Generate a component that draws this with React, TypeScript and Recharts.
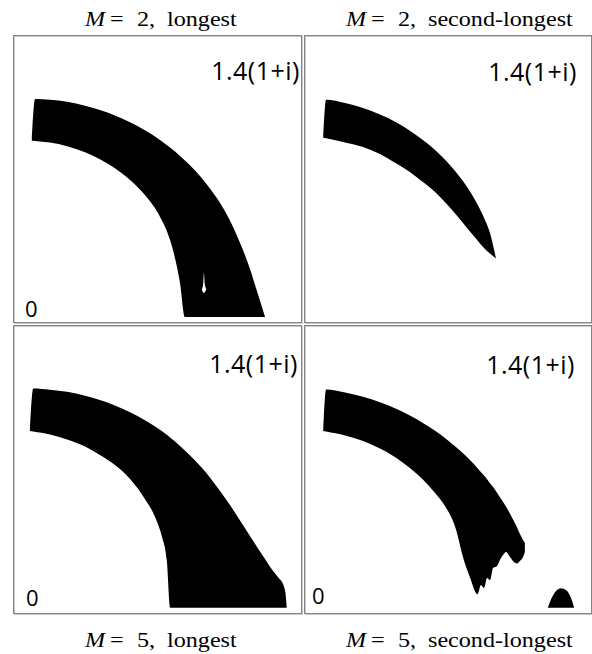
import React from 'react';
import { Area, ComposedChart, XAxis, YAxis } from 'recharts';

// every panel shows the same window of the complex plane: 0 .. 1.4(1+i)
const RE_MAX = 1.4;
const IM_MAX = 1.4;

// M = 2, longest
const TL_X = [0.091, 0.107, 0.179, 0.262, 0.349, 0.421, 0.494, 0.567, 0.639, 0.712, 0.761, 0.809, 0.833, 0.882, 0.94, 1.003, 1.051, 1.1, 1.129, 1.153, 1.177, 1.197, 1.221];
const TL_LOW = [0.886, 0.885, 0.877, 0.859, 0.83, 0.796, 0.752, 0.695, 0.622, 0.517, 0.403, 0.194, 0.029, 0.029, 0.029, 0.029, 0.029, 0.029, 0.029, 0.029, 0.029, 0.029, 0.029];
const TL_HIGH = [0.886, 1.089, 1.085, 1.075, 1.056, 1.035, 1.009, 0.976, 0.937, 0.89, 0.853, 0.812, 0.79, 0.741, 0.672, 0.583, 0.498, 0.389, 0.316, 0.248, 0.17, 0.107, 0.029];
// small hole inside the band
const TL_HOLE_X = [0.915, 0.921, 0.925, 0.929, 0.937];
const TL_HOLE_LOW = [0.165, 0.148, 0.146, 0.15, 0.165];
const TL_HOLE_HIGH = [0.165, 0.185, 0.243, 0.19, 0.165];

// M = 2, second-longest
const TR_X = [0.093, 0.107, 0.199, 0.286, 0.368, 0.446, 0.513, 0.576, 0.635, 0.688, 0.736, 0.785, 0.833, 0.872, 0.901, 0.93];
const TR_LOW = [0.901, 0.898, 0.878, 0.856, 0.822, 0.776, 0.734, 0.685, 0.637, 0.582, 0.527, 0.468, 0.411, 0.365, 0.338, 0.314];
const TR_HIGH = [0.901, 1.085, 1.069, 1.045, 1.013, 0.976, 0.935, 0.89, 0.841, 0.789, 0.734, 0.669, 0.591, 0.512, 0.438, 0.314];

// M = 5, longest
const BL_X = [0.082, 0.098, 0.179, 0.262, 0.349, 0.421, 0.494, 0.567, 0.639, 0.688, 0.722, 0.745, 0.761, 0.809, 0.882, 0.954, 1.003, 1.051, 1.134, 1.211, 1.26, 1.289, 1.308, 1.32, 1.326];
const BL_LOW = [0.885, 0.882, 0.868, 0.844, 0.809, 0.768, 0.719, 0.651, 0.554, 0.467, 0.369, 0.258, 0.026, 0.026, 0.026, 0.026, 0.026, 0.026, 0.026, 0.026, 0.026, 0.026, 0.026, 0.026, 0.026];
const BL_HIGH = [0.885, 1.091, 1.085, 1.075, 1.056, 1.035, 1.009, 0.976, 0.937, 0.906, 0.883, 0.866, 0.853, 0.812, 0.741, 0.659, 0.593, 0.525, 0.396, 0.277, 0.204, 0.168, 0.141, 0.097, 0.026];

// M = 5, second-longest
const BR_X = [0.093, 0.107, 0.199, 0.286, 0.368, 0.446, 0.513, 0.576, 0.635, 0.683, 0.736, 0.77, 0.804, 0.841, 0.857, 0.872, 0.887, 0.901, 0.916, 0.935, 0.949, 0.964, 0.979, 0.998, 1.017, 1.032, 1.046, 1.061, 1.07];
const BR_LOW = [0.885, 0.882, 0.863, 0.836, 0.8, 0.755, 0.705, 0.649, 0.583, 0.52, 0.407, 0.272, 0.173, 0.091, 0.136, 0.122, 0.17, 0.16, 0.219, 0.228, 0.258, 0.282, 0.297, 0.272, 0.248, 0.241, 0.253, 0.272, 0.297];
const BR_HIGH = [0.885, 1.087, 1.072, 1.051, 1.025, 0.993, 0.96, 0.924, 0.886, 0.851, 0.807, 0.777, 0.744, 0.704, 0.685, 0.668, 0.65, 0.631, 0.612, 0.585, 0.563, 0.541, 0.517, 0.483, 0.446, 0.416, 0.384, 0.355, 0.34];
// separate blob near the real axis
const BR_BLOB_X = [1.181, 1.197, 1.221, 1.245, 1.269, 1.293, 1.309];
const BR_BLOB_LOW = [0.026, 0.026, 0.026, 0.026, 0.026, 0.026, 0.026];
const BR_BLOB_HIGH = [0.026, 0.067, 0.107, 0.12, 0.112, 0.074, 0.026];

const M_VALUES = [2, 2, 5, 5];
const KINDS = ['longest', 'second-longest', 'longest', 'second-longest'];
const CORNER_LABEL = '1.4(1+i)';
const ORIGIN_LABEL = '0';

const band = (xs: number[], lo: number[], hi: number[]) => xs.map((x, i) => ({ x, r: [lo[i], hi[i]] }));

type Shape = { data: { x: number; r: number[] }[]; fill: string };

const PANELS: { left: number; top: number; shapes: Shape[] }[] = [
  {
    left: 13,
    top: 35,
    shapes: [
      { data: band(TL_X, TL_LOW, TL_HIGH), fill: '#000' },
      { data: band(TL_HOLE_X, TL_HOLE_LOW, TL_HOLE_HIGH), fill: '#fff' },
    ],
  },
  { left: 304, top: 35, shapes: [{ data: band(TR_X, TR_LOW, TR_HIGH), fill: '#000' }] },
  { left: 13, top: 325, shapes: [{ data: band(BL_X, BL_LOW, BL_HIGH), fill: '#000' }] },
  {
    left: 304,
    top: 325,
    shapes: [
      { data: band(BR_X, BR_LOW, BR_HIGH), fill: '#000' },
      { data: band(BR_BLOB_X, BR_BLOB_LOW, BR_BLOB_HIGH), fill: '#000' },
    ],
  },
];

function Panel({ left, top, shapes }: { left: number; top: number; shapes: Shape[] }) {
  return (
    <div style={{ position: 'absolute', left, top }}>
      <ComposedChart width={289} height={288} margin={{ top: 0, right: 0, bottom: 0, left: 0 }}>
        <XAxis type="number" dataKey="x" domain={[0, RE_MAX]} hide allowDataOverflow />
        <YAxis type="number" domain={[0, IM_MAX]} hide allowDataOverflow />
        {shapes.map((s, i) => (
          <Area
            key={i}
            data={s.data}
            dataKey="r"
            type="monotone"
            fill={s.fill}
            fillOpacity={1}
            stroke="none"
            dot={false}
            activeDot={false}
            isAnimationActive={false}
          />
        ))}
      </ComposedChart>
    </div>
  );
}

// panel frames and label anchors
const FRAMES = [
  { x: 13.5, y: 35.5, w: 288, h: 287 },
  { x: 304.5, y: 35.5, w: 287, h: 287 },
  { x: 13.5, y: 325.5, w: 288, h: 288 },
  { x: 304.5, y: 325.5, w: 287, h: 288 },
];
const CORNER_POS = [
  { x: 300, y: 80 },
  { x: 577, y: 81 },
  { x: 298, y: 373 },
  { x: 575, y: 374 },
];
const ORIGIN_POS = [{ x: 25, y: 317 }, null, { x: 26, y: 606 }, { x: 312, y: 604 }];
const TITLE_POS = [
  { x: 85, y: 26 },
  { x: 346, y: 26 },
  { x: 85, y: 647 },
  { x: 346, y: 647 },
];
const STRETCH = 1.15;

export default function App() {
  return (
    <div style={{ position: 'absolute', left: 0, top: 0, width: 592, height: 654, overflow: 'hidden', background: '#fff' }}>
      {PANELS.map((p, i) => (
        <Panel key={i} {...p} />
      ))}
      <svg width={592} height={654} style={{ position: 'absolute', left: 0, top: 0, pointerEvents: 'none' }}>
        {FRAMES.map((f, i) => (
          <g key={i}>
            <rect x={f.x + 1} y={f.y + 1} width={f.w} height={f.h} fill="none" stroke="#c8c8c8" />
            <rect x={f.x} y={f.y} width={f.w} height={f.h} fill="none" stroke="#858585" />
          </g>
        ))}
        {CORNER_POS.map((c, i) => (
          <text key={i} x={c.x} y={c.y} textAnchor="end" fontFamily="Open Sans" fontSize={25} letterSpacing={0.5} fill="#000">
            {CORNER_LABEL}
          </text>
        ))}
        {ORIGIN_POS.map((o, i) =>
          o ? (
            <text key={i} x={o.x} y={o.y} fontFamily="Open Sans" fontSize={22} fill="#000">
              {ORIGIN_LABEL}
            </text>
          ) : null
        )}
        {TITLE_POS.map((t, i) => (
          <g key={i} transform={`translate(${t.x},${t.y}) scale(${STRETCH},1)`}>
            <text x={0} y={0} fontFamily="Liberation Serif" fontSize={21} fill="#000">
              <tspan fontStyle="italic">M</tspan>
              <tspan x={25 / STRETCH}>=</tspan>
              <tspan x={52 / STRETCH}>{M_VALUES[i]},</tspan>
              <tspan x={82 / STRETCH}>{KINDS[i]}</tspan>
            </text>
          </g>
        ))}
      </svg>
    </div>
  );
}
